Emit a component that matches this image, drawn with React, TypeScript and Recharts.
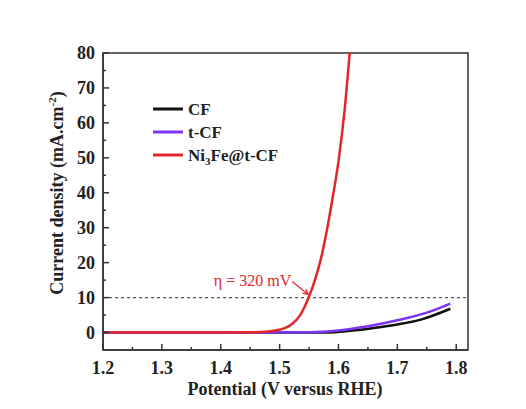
import React from "react";
import {
  LineChart,
  Line,
  XAxis,
  YAxis,
  ReferenceLine,
  usePlotArea,
} from "recharts";

// potential (V vs RHE) and current density (mA cm-2)
const cfPotential = [1.2, 1.4, 1.58, 1.62, 1.66, 1.7, 1.74, 1.79];
const cfCurrent = [0, 0, 0, 0.5, 1.3, 2.3, 3.7, 6.8];

const tcfPotential = [1.2, 1.4, 1.55, 1.6, 1.65, 1.7, 1.75, 1.79];
const tcfCurrent = [0, 0, 0.1, 0.6, 1.8, 3.5, 5.7, 8.3];

const niPotential = [
  1.2, 1.3, 1.4, 1.45, 1.48, 1.5, 1.52, 1.535, 1.55, 1.56, 1.57, 1.58, 1.59,
  1.6, 1.61, 1.62,
];
const niCurrent = [
  0, 0, 0, 0.05, 0.3, 0.8, 2.3, 5, 10.3, 15, 21, 29, 38.5, 49, 63, 82,
];

const xTicks = [1.2, 1.25, 1.3, 1.35, 1.4, 1.45, 1.5, 1.55, 1.6, 1.65, 1.7, 1.75, 1.8];
const yTicks = [0, 5, 10, 15, 20, 25, 30, 35, 40, 45, 50, 55, 60, 65, 70, 75, 80];

const toRows = (xs: number[], ys: number[]) => xs.map((v, i) => ({ v, j: ys[i] }));

const cfData = toRows(cfPotential, cfCurrent);
const tcfData = toRows(tcfPotential, tcfCurrent);
const niData = toRows(niPotential, niCurrent);

const FONT = '"Liberation Serif", "Times New Roman", serif';
const RED = "#e3262b";
const PURPLE = "#7d35f5";
const BLACK = "#111111";

const XTick = (props: any) => {
  const { x, y, payload } = props;
  const v = payload.value as number;
  const major = Math.round(v * 100) % 10 === 0;
  return (
    <g>
      <line x1={x} x2={x} y1={y} y2={y - (major ? 6 : 3)} stroke="#333" strokeWidth={1.5} />
      {major && (
        <text x={x} y={y + 24} textAnchor="middle" fontFamily={FONT} fontWeight="bold" fontSize={18} fill="#222">
          {v.toFixed(1)}
        </text>
      )}
    </g>
  );
};

const YTick = (props: any) => {
  const { x, y, payload } = props;
  const v = payload.value as number;
  const major = v % 10 === 0;
  return (
    <g>
      <line x1={x} x2={x + (major ? 6 : 3)} y1={y} y2={y} stroke="#333" strokeWidth={1.5} />
      {major && (
        <text x={x - 8} y={y + 6} textAnchor="end" fontFamily={FONT} fontWeight="bold" fontSize={18} fill="#222">
          {v}
        </text>
      )}
    </g>
  );
};

const YLabel = () => (
  <text
    transform="translate(55, 185) rotate(-90)"
    textAnchor="middle"
    fontFamily={FONT}
    fontWeight="bold"
    fontSize={18}
    fill="#222"
  >
    Current density (mA.cm
    <tspan dy={-7} fontSize={11}>-2</tspan>
    <tspan dy={7}>)</tspan>
  </text>
);

const XLabel = () => (
  <text x={277} y={387} textAnchor="middle" fontFamily={FONT} fontWeight="bold" fontSize={18} fill="#222">
    Potential (V versus RHE)
  </text>
);

// box around the plot area
const Frame = () => {
  const area = usePlotArea();
  if (!area) return null;
  return (
    <rect x={area.x} y={area.y} width={area.width} height={area.height} fill="none" stroke="#333" strokeWidth={1.5} />
  );
};

const Arrow = (props: any) => {
  const { x1, y1, x2, y2 } = props;
  const ang = Math.atan2(y2 - y1, x2 - x1);
  const len = 6;
  const ax = x2 - len * Math.cos(ang - 0.45);
  const ay = y2 - len * Math.sin(ang - 0.45);
  const bx = x2 - len * Math.cos(ang + 0.45);
  const by = y2 - len * Math.sin(ang + 0.45);
  return (
    <g>
      <line x1={x1} y1={y1} x2={x2} y2={y2} stroke={RED} strokeWidth={1.2} />
      <polyline points={`${ax},${ay} ${x2},${y2} ${bx},${by}`} fill="none" stroke={RED} strokeWidth={1.2} />
      <text x={x1 - 1} y={y1 + 4} textAnchor="end" fontFamily={FONT} fontSize={16} fill={RED}>
        η = 320 mV
      </text>
    </g>
  );
};

const legendNames = ["CF", "t-CF", "Ni3Fe@t-CF"];
const legendColors = [BLACK, PURPLE, RED];

const LegendBox = () => (
  <g fontFamily={FONT} fontWeight="bold" fontSize={17} fill="#222">
    {legendNames.map((name, i) => {
      const y = 101 + i * 23;
      return (
        <g key={name}>
          <line x1={145} x2={175} y1={y} y2={y} stroke={legendColors[i]} strokeWidth={3} />
          <text x={180} y={y + 6}>
            {name === "Ni3Fe@t-CF" ? (
              <>
                Ni<tspan dy={4} fontSize={11}>3</tspan>
                <tspan dy={-4}>Fe@t-CF</tspan>
              </>
            ) : (
              name
            )}
          </text>
        </g>
      );
    })}
  </g>
);

export default function App() {
  return (
    <div style={{ width: 518, height: 401 }}>
      <LineChart width={518} height={401} margin={{ top: 45, right: 58, left: 0, bottom: 0 }}>
        <XAxis
          dataKey="v"
          type="number"
          domain={[1.2, 1.82]}
          ticks={xTicks}
          interval={0}
          tickSize={0}
          tickMargin={0}
          tick={<XTick />}
          height={59}
          axisLine={{ stroke: "#333", strokeWidth: 1.5 }}
          allowDataOverflow
        />
        <YAxis
          type="number"
          domain={[-5, 80]}
          ticks={yTicks}
          interval={0}
          tickSize={0}
          tickMargin={0}
          tick={<YTick />}
          width={95}
          axisLine={{ stroke: "#333", strokeWidth: 1.5 }}
          allowDataOverflow
        />
        <ReferenceLine y={10} stroke="#555" strokeDasharray="3 3" strokeWidth={1.2} />
        <ReferenceLine
          segment={[
            { x: 1.5214, y: 14.6 },
            { x: 1.5486, y: 10.9 },
          ]}
          shape={<Arrow />}
        />
        <Line data={cfData} dataKey="j" type="monotone" stroke={BLACK} strokeWidth={2.5} dot={false} isAnimationActive={false} />
        <Line data={tcfData} dataKey="j" type="monotone" stroke={PURPLE} strokeWidth={2.5} dot={false} isAnimationActive={false} />
        <Line data={niData} dataKey="j" type="monotone" stroke={RED} strokeWidth={2.5} dot={false} isAnimationActive={false} />
        <Frame />
        <LegendBox />
        <YLabel />
        <XLabel />
      </LineChart>
    </div>
  );
}
